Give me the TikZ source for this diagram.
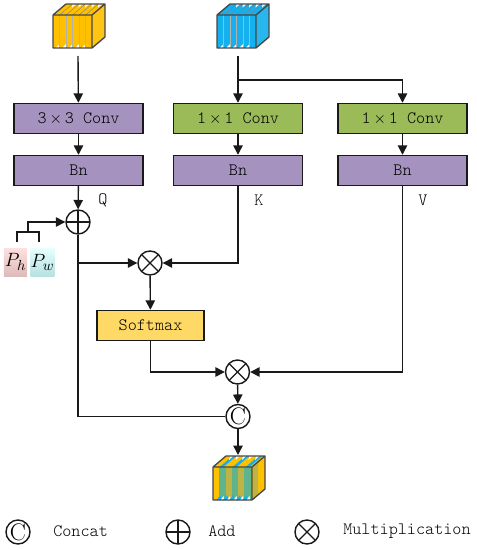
\documentclass[tikz,border=0pt]{standalone}
\usepackage{amsmath,amssymb}
\usetikzlibrary{arrows.meta,calc}
\definecolor{boxpurple}{RGB}{166,146,191}
\definecolor{boxgreen}{RGB}{155,187,89}
\definecolor{boxyellow}{RGB}{255,217,102}
\definecolor{cubeorange}{RGB}{255,192,0}
\definecolor{cubeblue}{RGB}{21,176,238}
\definecolor{cubeteal}{RGB}{96,180,140}
\definecolor{cubeolive}{RGB}{190,180,70}
\definecolor{inkln}{RGB}{25,25,25}
\newcommand{\monofont}{\fontsize{13}{15}\selectfont\ttfamily\fontseries{l}\selectfont}
\tikzset{
  flowln/.style={-{Triangle[length=7pt,width=7pt]}, line width=1.05pt, inkln},
  plainln/.style={line width=1.05pt, inkln},
  opbox/.style={draw=inkln, line width=1.1pt, minimum width=97pt, minimum height=22.5pt, inner sep=0pt, font=\monofont},
  circop/.style={circle, draw=inkln, line width=1.05pt, fill=white, minimum size=18pt, inner sep=0pt},
  addop/.style={circop, path picture={
    \draw[line width=1.05pt, inkln] (path picture bounding box.north) -- (path picture bounding box.south);
    \draw[line width=1.05pt, inkln] (path picture bounding box.west) -- (path picture bounding box.east);}},
  mulop/.style={circop, path picture={
    \draw[line width=1.05pt, inkln] (path picture bounding box.north east) -- (path picture bounding box.south west);
    \draw[line width=1.05pt, inkln] (path picture bounding box.north west) -- (path picture bounding box.south east);}},
  catop/.style={circop, font=\fontsize{18}{18}\selectfont},
  marklbl/.style={font=\monofont, inner sep=0pt},
  posbox/.style={minimum width=17.5pt, minimum height=21pt, inner sep=0pt, font=\fontsize{15.5}{15.5}\selectfont},
}
% cube: left x, top y of the front face, then face colour
\newcommand{\stripecube}[3]{%
  \fill[#3] (#1,#2) -- ++(13,-11) -- ++(39,0) -- ++(-13,11) -- cycle;
  \fill[#3!92!white] (#1+39,#2) -- ++(13,-11) -- ++(0,33) -- ++(-13,11) -- cycle;
  \fill[#3] (#1,#2) rectangle ++(39,33);
  \foreach \i in {1,...,5} {
    \draw[gray, line width=0.3pt] (#1+6.5*\i,#2) -- ++(13,-11);
    \fill[white] (#1+6.5*\i+13,#2-11) -- ++(3.5,0) -- ++(-4,3.5) -- cycle;
    \fill[white] (#1+6.5*\i-4,#2+33) -- ++(4,0) -- ++(0,-4) -- cycle;
    \draw[gray!60, line width=0.3pt] (#1+6.5*\i,#2) -- ++(0,33);
  }
  \draw[inkln!80, line width=1pt, line join=round] (#1,#2) rectangle ++(39,33)
    (#1,#2) -- ++(13,-11) -- ++(39,0) -- ++(-13,11)
    (#1+52,#2-11) -- ++(0,33) -- ++(-13,11);
}
\begin{document}
\begin{tikzpicture}[x=0.75pt,y=-0.75pt]
  \useasboundingbox (0,0) rectangle (476,550);
  % input cubes
  \stripecube{53}{15}{cubeorange}
  \stripecube{217}{15}{cubeblue}
  % output cube with mixed stripes
  \fill[cubeorange] (213,467) -- ++(13,-11) -- ++(39,0) -- ++(-13,11) -- cycle;
  \foreach \i in {1,3,5} {
    \fill[cubeblue] (213+6.5*\i,467) -- ++(13,-11) -- ++(4,0) -- ++(-13,11) -- cycle;
  }
  \foreach \i in {0,...,5} {
    \fill[white] (213+6.5*\i+17,456) -- ++(3,0) -- ++(-4,4) -- cycle;
  }
  \fill[cubeorange] (252,467) -- ++(13,-11) -- ++(0,33) -- ++(-13,11) -- cycle;
  \fill[cubeolive] (253,466) -- ++(5,-4) -- ++(0,33) -- ++(-5,4) -- cycle;
  \fill[cubeorange] (213,467) rectangle ++(39,33);
  \fill[cubeteal] (219,467) rectangle ++(7,33);
  \fill[cubeolive] (226,467) rectangle ++(6,33);
  \fill[cubeteal] (232,467) rectangle ++(6,33);
  \fill[cubeolive] (238,467) rectangle ++(6,33);
  \fill[cubeteal] (244,467) rectangle ++(8,33);
  \foreach \i in {1,...,5} {
    \fill[cubeblue] (213+6.5*\i-3,500) -- ++(4,-5) -- ++(1.5,5) -- cycle;
    \fill[white] (213+6.5*\i+1,500) -- ++(3,-4) -- ++(0.5,4) -- cycle;
  }
  \draw[inkln!80, line width=1pt, line join=round] (213,467) rectangle ++(39,33)
    (213,467) -- ++(13,-11) -- ++(39,0) -- ++(-13,11)
    (265,456) -- ++(0,33) -- ++(-13,11);
  % boxes
  \node[opbox, fill=boxpurple] (convq) at (78.5,118.5) {3\,$\times$\,3 Conv};
  \node[opbox, fill=boxpurple] (bnq) at (78.5,170.5) {Bn};
  \node[opbox, fill=boxgreen] (convk) at (238,118.5) {1\,$\times$\,1 Conv};
  \node[opbox, fill=boxpurple] (bnk) at (238,170.5) {Bn};
  \node[opbox, fill=boxgreen] (convv) at (402.5,118.5) {1\,$\times$\,1 Conv};
  \node[opbox, fill=boxpurple] (bnv) at (402.5,170.5) {Bn};
  \node[opbox, fill=boxyellow, minimum width=80pt] (softmax) at (150.5,325.5) {Softmax};
  % operators
  \node[addop] (addq) at (78,222) {};
  \node[mulop] (mula) at (150,263) {};
  \node[mulop] (mulb) at (237.5,372) {};
  \node[catop] (cat) at (238,416.5) {C};
  % position boxes
  \node[posbox, shade, top color=red!12, bottom color=red!35!gray!40] (ph) at (15.5,262) {$P_h$};
  \node[posbox, shade, top color=cyan!10, bottom color=cyan!40!gray!40] (pw) at (42.5,262) {$P_w$};
  % free ends
  \coordinate (qin) at (78,56);
  \coordinate (kin) at (238,56);
  \coordinate (kfork) at (238,80);
  \coordinate (catout) at (238,455);
  \coordinate (posjoin) at (28,232);
  \coordinate (phup) at (17,242);
  \coordinate (pwup) at (39,242);
  % connectors
  \draw[flowln] (qin) -- (convq);
  \draw[flowln] (kin) -- (convk);
  \draw[flowln] (kfork) -| (convv);
  \draw[flowln] (convq) -- (bnq);
  \draw[flowln] (convk) -- (bnk);
  \draw[flowln] (convv) -- (bnv);
  \draw[flowln] (bnq) -- (addq);
  \draw[plainln] (phup) |- (posjoin) -| (pwup);
  \draw[flowln] (posjoin) |- (addq);
  \draw[flowln] (addq.south) |- (mula);
  \draw[flowln] (bnk) |- (mula);
  \draw[flowln] (mula) -- (softmax);
  \draw[flowln] (softmax.south) |- (mulb);
  \draw[flowln] (bnv) |- (mulb);
  \draw[plainln] (addq.south) |- (cat);
  \draw[flowln] (mulb) -- (cat);
  \draw[flowln] (cat) -- (catout);
  % stream marks
  \node[marklbl] (markq) at (103,200) {Q};
  \node[marklbl] (markk) at (259,200) {K};
  \node[marklbl] (markv) at (423,200) {V};
  % legend
  \node[catop] (keycat) at (18,532) {C};
  \node[marklbl, anchor=west] (keycattxt) at (53,531) {Concat};
  \node[addop] (keyadd) at (178,532) {};
  \node[marklbl, anchor=west] (keyaddtxt) at (208,531) {Add};
  \node[mulop] (keymul) at (307,532) {};
  \node[marklbl, anchor=west] (keymultxt) at (343,531) {Multiplication};
\end{tikzpicture}
\end{document}
